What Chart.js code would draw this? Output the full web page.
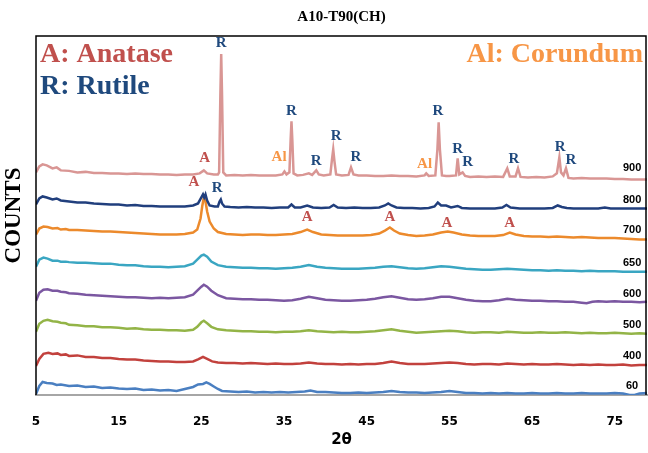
<!DOCTYPE html>
<html>
<head>
<meta charset="utf-8">
<script src="https://cdn.jsdelivr.net/npm/chart.js@4.4.1/dist/chart.umd.min.js"></script>
<style>
  html, body { margin: 0; padding: 0; background: #fff; }
  #wrap { width: 648px; height: 453px; }
</style>
</head>
<body>
<div id="wrap"><canvas id="xrdChart"></canvas></div>
<script>
// XRD patterns, [2theta, counts] (counts are offset per sample)
const sampleNames = ["900", "800", "700", "650", "600", "500", "400", "60"];
const sampleColors = ["#d99694", "#213f7d", "#ec8a2c", "#3aa6c2", "#7b57a1", "#93b447", "#c2413d", "#4a7fc1"];
const sampleLabelY = [226, 194, 165, 132, 101, 70, 39, 9];
const sampleLabelTheta = 77.1;

const xTickValues = [5, 15, 25, 35, 45, 55, 65, 75];

const s900 = [[5,222],[5.4,228],[5.8,230],[6.3,229],[7,226],[7.5,227],[8,224],[9,223.5],[10,222],[11,222.5],[12,221.5],[13,221.5],[14,221],[15,221],[16,220.5],[17,221],[18,220.5],[19,220.5],[20,220],[21,220],[22,219.5],[23,220],[24,220],[24.8,221],[25.3,224],[25.7,221],[26.5,220],[27,220],[27.15,222],[27.3,300],[27.4,340],[27.5,300],[27.65,222],[28,219],[29,219.5],[30,219],[31,219.5],[32,219],[33,219],[34,219],[34.8,220],[35.05,223],[35.3,220],[35.65,222],[35.8,255],[35.9,273],[36,255],[36.15,221],[36.6,219],[37.3,219.5],[38,221],[38.4,219.5],[38.9,224],[39.2,220],[39.8,219],[40.6,220],[40.8,235],[40.95,245],[41.1,233],[41.3,220],[42,219],[42.8,219.5],[43.1,227],[43.4,220],[44,219],[45,219],[46,218.5],[47,218.5],[48,219],[49,218.5],[50,218.5],[51,218],[52,219],[52.2,221],[52.5,218.5],[53.3,219],[53.55,245],[53.7,272],[53.85,245],[54.1,219],[54.6,218.5],[55,218.5],[55.8,219],[56,236],[56.2,220],[56.6,222],[56.9,218.5],[57.5,217.5],[58.5,218],[59.5,217.5],[60.5,218],[61.5,217.5],[62,226],[62.3,218],[63,218],[63.3,226],[63.6,217.5],[64.5,217],[65.5,217.5],[66.5,217],[67.5,218],[68,221],[68.3,237],[68.5,222],[68.8,219],[69.1,226],[69.4,216.5],[70,216],[71,216.5],[72,216],[73,216],[74,216],[75,215.5],[76,215.5],[77,215],[78,215],[78.9,215]];
const s800 = [[5,190],[5.4,196],[5.8,198],[6.3,197],[7,195],[7.5,196],[8,194],[9,193],[10,192],[11,192],[12,191],[13,190.5],[14,190],[15,190],[16,189],[17,189.5],[18,188.5],[19,188.5],[20,188],[21,188],[22,188],[23,188],[24,189],[24.6,191],[25,197],[25.2,200],[25.35,197],[25.5,200],[25.7,194],[26,189],[26.6,188],[27,188],[27.2,193],[27.35,195],[27.5,191],[27.8,188],[28.5,187.5],[29.5,187],[30.5,187.5],[31.5,187],[32.5,187],[33.5,186.5],[34.5,187],[35.5,187],[35.9,190],[36.3,187],[37,187],[37.8,189],[38.5,187],[39.5,186.5],[40.5,187],[41,189.5],[41.5,187],[42.5,186.5],[43.5,187],[44.5,186.5],[45.5,186.5],[46.5,187],[47.2,189],[47.6,191],[48,189],[48.6,187],[49.5,186.5],[50.5,186.5],[51.5,186],[52.5,186.5],[53.2,188],[53.6,192],[54,189],[54.6,189],[55.2,187],[56,188.5],[56.5,186.5],[57.5,186],[58.5,186],[59.5,186],[60.5,186],[61.4,187],[61.9,189.5],[62.4,187],[63.5,186],[64.5,186],[65.5,186],[66.5,186],[67.5,186.5],[68.1,189],[68.6,187.5],[69.2,186.5],[70,186],[71,186],[72,186],[73,186],[73.8,187],[74.5,186],[75.5,186],[76.5,186],[77.5,186],[78.9,186]];
const s700 = [[5,160],[5.4,166],[5.9,168],[6.4,167.5],[7,166],[7.6,166.5],[8,165],[8.6,165.5],[9,164.5],[10,164.5],[11,164],[12,163.5],[13,163],[14,163],[15,162.5],[16,162],[17,161.5],[18,161],[19,160.5],[20,160],[21,160],[22,160],[23,160.5],[24,162],[24.5,165],[24.9,176],[25.1,188],[25.3,197],[25.5,193],[25.7,183],[26,173],[26.5,166],[27,162.5],[28,160.5],[29,160],[30,159.5],[31,160],[32,160],[33,159.5],[34,159.5],[35,160],[36,160.5],[37,162.5],[37.8,165],[38.5,162.5],[39.5,160],[40.5,159.5],[41.5,159],[42.5,159],[43.5,159],[44.5,159],[45.5,159.5],[46.5,161],[47.2,164],[47.8,167],[48.3,164],[49,161],[50,159.5],[51,158.5],[52,159],[53,160],[54,162],[54.8,163],[55.5,162],[56.5,160],[57.5,159],[58.5,158.5],[59.5,158.5],[60.5,158.5],[61.5,159.5],[62.3,162],[63,160],[64,158.5],[65,158],[66,158],[67,157.5],[68,158],[69,157.5],[70,157],[71,157.5],[72,157],[73,156.5],[74,156.5],[75,156.5],[76,156],[77,155.5],[78,155],[78.9,155]];
const s650 = [[5,128],[5.4,135],[5.9,137],[6.4,136],[7,134],[7.6,134],[8,133],[8.6,133],[9,132.5],[10,132],[11,132],[12,131.5],[13,131],[14,131],[15,130],[16,129.5],[17,129.5],[18,128.5],[19,128],[20,128],[21,127.5],[22,128],[23,128.5],[24,131],[24.5,135],[25,139],[25.3,140],[25.7,138],[26.2,133],[27,129.5],[28,128],[29,127.5],[30,127],[31,127],[32,126.5],[33,126.5],[34,126],[35,126.5],[36,127],[37,128],[38,129.5],[39,128],[40,127],[41,126.5],[42,126],[43,126],[44,126],[45,126.5],[46,127],[47,128],[48,128.5],[49,127.5],[50,126.5],[51,126],[52,126.5],[53,127.5],[54,128.5],[55,128],[56,127],[57,126],[58,125.5],[59,125],[60,125],[61,125.5],[62,126],[63,125.5],[64,125],[65,124.5],[66,124.5],[67,124],[68,124.5],[69,124],[70,124],[71,123.5],[72,124],[73,123.5],[74,123.5],[75,123.5],[76,123],[77,123],[78,123],[78.9,123]];
const s600 = [[5,94],[5.4,102],[5.9,105],[6.4,105.5],[7,104],[7.6,104],[8,103],[8.6,102.5],[9,101.5],[10,101],[11,100],[12,99.5],[13,99],[14,98.5],[15,98],[16,97.5],[17,97.5],[18,97],[19,96.5],[20,97],[21,96.5],[22,97],[23,97.5],[24,100],[24.5,104],[25,108],[25.3,110],[25.7,108],[26.2,104],[27,99.5],[28,96.5],[29,96],[30,95.5],[31,95.5],[32,95],[33,95],[34,94.5],[35,94],[36,94.5],[37,96],[38,98],[39,96.5],[40,95],[41,94.5],[42,94],[43,94],[44,94.5],[45,95],[46,96],[47,97.5],[48,98.5],[49,97],[50,95.5],[51,95],[52,95.5],[53,96.5],[54,98],[55,98],[56,96.5],[57,95],[58,94],[59,93.5],[60,93.5],[61,94.5],[62,96],[63,95],[64,94.5],[65,94],[66,94],[67,93.5],[68,93.5],[69,93],[70,93],[71,92],[71.6,91.5],[72.3,93],[73,93.5],[74,93],[75,93.5],[76,93],[77,93],[78,92.5],[78.9,93]];
const s500 = [[5,63],[5.4,71],[5.9,74],[6.4,75],[7,73.5],[7.6,73],[8,72],[8.6,71.5],[9,70],[10,69.5],[11,68.5],[12,68.5],[13,67.5],[14,67.5],[15,67],[16,66],[17,66.5],[18,65.5],[19,65],[20,65],[21,64.5],[22,64.5],[23,64],[24,65],[24.5,68],[25,72.5],[25.3,74],[25.7,71.5],[26.2,68],[27,65.5],[28,64.5],[29,64],[30,63.5],[31,63.5],[32,63],[33,63],[34,62.5],[35,63],[36,63],[37,63.5],[38,64.5],[39,63.5],[40,63],[41,62.5],[42,63],[43,62.5],[44,62.5],[45,63],[46,63.5],[47,64.5],[48,65.5],[49,64],[50,63],[51,62],[52,62.5],[53,63],[54,63.5],[55,64],[56,63.5],[57,62.5],[58,62],[59,62.5],[60,62.5],[61,62],[62,63],[63,62.5],[64,62],[65,62],[66,62.5],[67,62],[68,62],[69,62.5],[70,62],[71,61.5],[72,62],[73,61.5],[74,61.5],[75,62],[76,61.5],[77,61],[78,61.5],[78.9,61]];
const s400 = [[5,29],[5.4,36],[5.9,41],[6.5,42],[7,41],[7.6,41.5],[8,40],[8.6,40.5],[9,39],[10,39.5],[11,38],[12,38],[13,37],[14,37],[15,36],[16,35.5],[17,35.5],[18,34.5],[19,34],[20,33.5],[21,33.5],[22,33],[23,33],[24,33.5],[24.6,35.5],[25.2,38],[25.7,36],[26.3,33.5],[27,32.5],[28,32],[29,32],[30,31.5],[31,32],[32,31.5],[33,31],[34,31.5],[35,31],[36,31],[37,31.5],[38,32.5],[39,31.5],[40,31],[41,31],[42,30.5],[43,31],[44,30.5],[45,31],[46,31],[47,32],[48,33.5],[49,32],[50,31],[51,31],[52,31],[53,31.5],[54,32],[55,32.5],[56,32],[57,31],[58,30.5],[59,31],[60,31],[61,30.5],[62,31.5],[63,31],[64,30.5],[65,31],[66,30.5],[67,30.5],[68,31],[69,30.5],[70,30],[71,30.5],[72,30],[73,30.5],[74,30],[75,30],[76,30.5],[77,29.5],[78,30],[78.9,30]];
const s60 = [[5,1],[5.4,9],[5.8,13],[6.3,12],[7,11.5],[7.5,10],[8,10.5],[9,9],[10,9.5],[11,8],[12,8.5],[13,7],[14,7.5],[15,6.5],[16,6],[17,6.5],[18,5],[19,5.5],[20,4.5],[21,5],[22,4],[23,6],[24,8],[24.6,10.5],[25.2,11],[25.6,12.5],[26,11],[26.5,8.5],[27,6],[27.5,4],[28.5,3.5],[29.5,3],[30.5,3.5],[31.5,2.5],[32.5,3],[33.5,2.5],[34.5,3],[35.5,2.5],[36.5,3],[37.5,3.5],[38.2,4.5],[39,3],[40,3],[41,2.5],[42,2],[43,2],[44,2.5],[45,2],[46,2.5],[47,3],[48,4],[49,3],[50,2.5],[51,2.5],[52,2],[53,2.5],[54,3],[55,4],[56,3],[57,2],[58,2],[59,1.5],[60,2],[61,1.5],[62,2],[63,1.5],[64,1.5],[65,2],[66,1.5],[67,1.5],[68,2],[69,1.5],[70,1.5],[71,2],[72,1.5],[73,1.5],[74,1.5],[75,2],[76,1.5],[76.8,0],[77.4,0],[78,1.5],[78.9,2]];

const allSeries = [s900, s800, s700, s650, s600, s500, s400, s60];

// phase markers above the peaks
const peakLabels = ["R", "A", "Al", "R", "R", "R", "R", "Al", "R", "R", "R", "R", "R", "R", "A", "R", "A", "A", "A", "A"];
const peakLabelTheta = [27.4, 25.4, 34.4, 35.9, 38.9, 41.3, 43.7, 52.0, 53.6, 56.0, 57.2, 62.8, 68.4, 69.7, 24.1, 26.9, 37.8, 47.8, 54.7, 62.3];
const peakLabelY = [351, 236, 237, 283, 233, 258, 237, 230, 283, 245, 232, 235, 247, 234, 212, 206, 177, 177, 171, 171];
const phaseColors = { A: "#c0504d", R: "#1f497d", Al: "#f79646" };

const overlay = {
  id: "overlay",
  afterDatasetsDraw(chart) {
    const { ctx, chartArea: a, scales } = chart;
    const x = scales.x, y = scales.y;
    ctx.save();
    // frame
    ctx.strokeStyle = "#000";
    ctx.lineWidth = 1.5;
    ctx.beginPath();
    ctx.moveTo(a.left, a.bottom);
    ctx.lineTo(a.left, a.top);
    ctx.lineTo(a.right - 1, a.top);
    ctx.lineTo(a.right - 1, a.bottom);
    ctx.stroke();

    ctx.textAlign = "center";
    ctx.textBaseline = "middle";
    ctx.font = 'bold 15px "Liberation Serif"';
    peakLabels.forEach((t, i) => {
      ctx.fillStyle = phaseColors[t];
      ctx.fillText(t, x.getPixelForValue(peakLabelTheta[i]), y.getPixelForValue(peakLabelY[i]));
    });

    ctx.font = 'bold 11px "Liberation Sans"';
    ctx.fillStyle = "#000";
    sampleNames.forEach((n, i) => {
      ctx.fillText(n, x.getPixelForValue(sampleLabelTheta), y.getPixelForValue(sampleLabelY[i]));
    });

    ctx.font = 'bold 28px "Liberation Serif"';
    ctx.textAlign = "left";
    ctx.fillStyle = phaseColors.A;
    ctx.fillText("A: Anatase", a.left + 4, a.top + 19);
    ctx.fillStyle = phaseColors.R;
    ctx.fillText("R: Rutile", a.left + 4, a.top + 51);
    ctx.textAlign = "right";
    ctx.fillStyle = phaseColors.Al;
    ctx.fillText("Al: Corundum", a.right - 4, a.top + 19);
    ctx.restore();
  }
};

new Chart(document.getElementById("xrdChart"), {
  type: "line",
  data: {
    datasets: allSeries.map((s, i) => ({
      label: sampleNames[i],
      data: s.map((p) => ({ x: p[0], y: p[1] })),
      borderColor: sampleColors[i],
      borderWidth: 2.5,
      pointRadius: 0,
      tension: 0,
      fill: false,
    })),
  },
  options: {
    responsive: true,
    maintainAspectRatio: false,
    animation: false,
    layout: { padding: { right: 1 } },
    plugins: {
      legend: { display: false },
      tooltip: { enabled: false },
      title: {
        display: true,
        text: "A10-T90(CH)",
        fullSize: false,
        color: "#000",
        font: { family: "Liberation Serif", size: 15, weight: "bold" },
        padding: { top: 8, bottom: 10 },
      },
    },
    scales: {
      x: {
        type: "linear",
        min: 5,
        max: 78.9,
        afterBuildTicks: (axis) => {
          axis.ticks = xTickValues.map((v) => ({ value: v }));
        },
        afterFit: (axis) => { axis.height = 58; },
        grid: { display: false },
        border: { color: "#a6a6a6", width: 2 },
        ticks: {
          color: "#000",
          padding: 12,
          maxRotation: 0,
          font: { family: "DejaVu Sans", size: 12, weight: "bold" },
        },
        title: {
          display: true,
          text: "2θ",
          color: "#000",
          font: { family: "DejaVu Sans", size: 15, weight: "bold" },
          padding: { top: 4, bottom: 4 },
        },
      },
      y: {
        min: 0,
        max: 358,
        afterFit: (axis) => { axis.width = 36; },
        grid: { display: false },
        border: { display: false },
        ticks: { display: false },
        title: {
          display: true,
          text: "COUNTS",
          color: "#000",
          font: { family: "Liberation Serif", size: 23, weight: "bold" },
          padding: { top: 0, bottom: 2 },
        },
      },
    },
  },
  plugins: [overlay],
});
</script>
</body>
</html>
